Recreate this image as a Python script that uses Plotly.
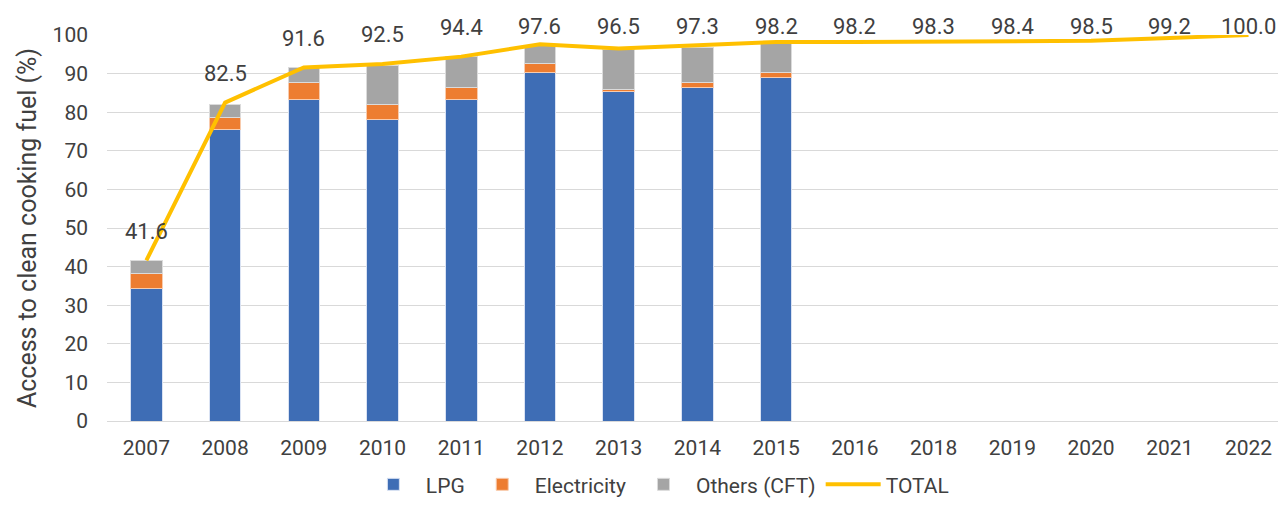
import plotly.graph_objects as go

years = ["2007","2008","2009","2010","2011","2012","2013","2014","2015","2016","2018","2019","2020","2021","2022"]
lpg = [34.2, 75.4, 83.4, 78.0, 83.4, 90.2, 85.3, 86.4, 88.9]
electricity = [4.1, 3.1, 4.4, 4.1, 3.1, 2.4, 0.6, 1.3, 1.3]
others = [3.3, 3.6, 3.8, 10.0, 7.9, 4.6, 10.4, 9.0, 7.6]
total = [41.6, 82.5, 91.6, 92.5, 94.4, 97.6, 96.5, 97.3, 98.2, 98.2, 98.3, 98.4, 98.5, 99.2, 100.0]
total_labels = [f"{v:.1f}" for v in total]

FONT = "Roboto"
TXT = "#404040"
PX_PER_UNIT = 3.86  # plot height 386 px for 100 units

fig = go.Figure()
fig.add_trace(go.Bar(x=years[:len(lpg)], y=lpg, name="LPG", marker=dict(color="#3E6DB5", line=dict(color="#D9E2F3", width=1))))
fig.add_trace(go.Bar(x=years[:len(electricity)], y=electricity, name="Electricity", marker=dict(color="#ED7D31", line=dict(color="#F8CBAD", width=1))))
fig.add_trace(go.Bar(x=years[:len(others)], y=others, name="Others (CFT)", marker=dict(color="#A5A5A5", line=dict(color="#DBDBDB", width=1))))
fig.add_trace(go.Scatter(x=years, y=total, name="TOTAL", mode="lines",
                         line=dict(color="#FFC000", width=4), cliponaxis=False))

# data labels above the TOTAL line, kept inside the top of the chart (as in Excel)
for i, (v, lab) in enumerate(zip(total, total_labels)):
    shift = min(29, (102.1 - v) * PX_PER_UNIT)
    fig.add_annotation(x=i, xref="x", y=v, yref="y", yshift=shift, text=lab, showarrow=False,
                       yanchor="middle", xanchor="center",
                       font=dict(size=22, color=TXT, family=FONT))

fig.update_layout(
    barmode="stack", bargap=0.6,
    width=1270, height=493,
    margin=dict(l=99, r=0, t=27, b=80, autoexpand=False),
    paper_bgcolor="white", plot_bgcolor="white",
    font=dict(family=FONT, color=TXT, size=21),
    legend=dict(orientation="h", x=0.47, xanchor="center", y=-0.165, yanchor="middle",
                font=dict(size=21, color=TXT), traceorder="normal", itemwidth=55),
    xaxis=dict(type="category", showgrid=False, showline=True, linecolor="#D9D9D9", linewidth=1,
               tickfont=dict(size=21, color=TXT), ticks="", automargin=False, ticklabelstandoff=8),
    yaxis=dict(range=[0, 100], dtick=10, showgrid=True, gridcolor="#D9D9D9", gridwidth=1,
               zeroline=False, tickfont=dict(size=21, color=TXT), ticks="", automargin=False,
               ticklabelstandoff=18,
               title=dict(text="Access to clean cooking fuel (%)", font=dict(size=25, color=TXT), standoff=8)),
)
fig.write_html("out.html")
